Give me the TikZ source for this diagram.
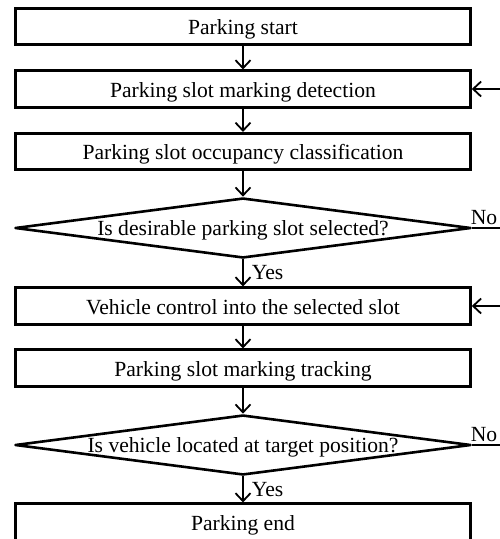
\documentclass[tikz,border=0pt]{standalone}
\usepackage{fontspec}
\setmainfont{Liberation Serif}
\usetikzlibrary{shapes.geometric,arrows.meta}

\tikzset{
  stepbox/.style={draw, line width=2.6pt, minimum width=455pt, minimum height=36.5pt,
    inner sep=0pt, text height=16.5pt, text depth=0pt, font=\fontsize{21.6}{24}\selectfont},
  decision/.style={draw, diamond, aspect=7.4, line width=2.6pt, line join=round,
    minimum width=456pt, minimum height=60pt, inner sep=0pt,
    text height=14pt, text depth=0pt, font=\fontsize{21.6}{24}\selectfont},
  flow/.style={line width=1.8pt, -{Straight Barb[length=8pt,width=15pt,line width=1.8pt]}},
  lbl/.style={font=\fontsize{21.6}{24}\selectfont, inner sep=2pt}
}

\begin{document}
\begin{tikzpicture}[x=1pt, y=-1pt]
  \useasboundingbox (0,0) rectangle (500,539);
  \clip (0,0) rectangle (500,539);

  % --- main column of steps ---
  \node[stepbox]  (start)  at (243,26.5) {Parking start};
  \node[stepbox]  (detect) at (243,89)   {Parking slot marking detection};
  \node[stepbox]  (classify) at (243,151.5) {Parking slot occupancy classification};
  \node[decision] (select) at (243,228)  {Is desirable parking slot selected?};
  \node[stepbox]  (drive)  at (243,306)  {Vehicle control into the selected slot};
  \node[stepbox]  (track)  at (243,368)  {Parking slot marking tracking};
  \node[decision] (target) at (243,445)  {Is vehicle located at target position?};
  \node[stepbox]  (finish) at (243,522)  {Parking end};

  % --- loop ends, cut off at the right edge ---
  \coordinate (backA) at (505,89);
  \coordinate (backB) at (505,306);
  \coordinate (noA)   at (505,228);
  \coordinate (noB)   at (505,445);

  % --- downward flow ---
  \draw[flow] (start) -- (detect);
  \draw[flow] (detect) -- (classify);
  \draw[flow] (classify) -- (select);
  \draw[flow] (select) -- node[lbl, right, xshift=6pt]{Yes} (drive);
  \draw[flow] (drive) -- (track);
  \draw[flow] (track) -- (target);
  \draw[flow] (target) -- node[lbl, right, xshift=6pt]{Yes} (finish);

  % --- "No" branches and returns ---
  \draw[line width=1.8pt] (select.east) -- node[lbl, above, pos=0.36]{No} (noA);
  \draw[line width=1.8pt] (target.east) -- node[lbl, above, pos=0.36]{No} (noB);
  \draw[flow] (backA) -- (detect.east);
  \draw[flow] (backB) -- (drive.east);
\end{tikzpicture}
\end{document}
